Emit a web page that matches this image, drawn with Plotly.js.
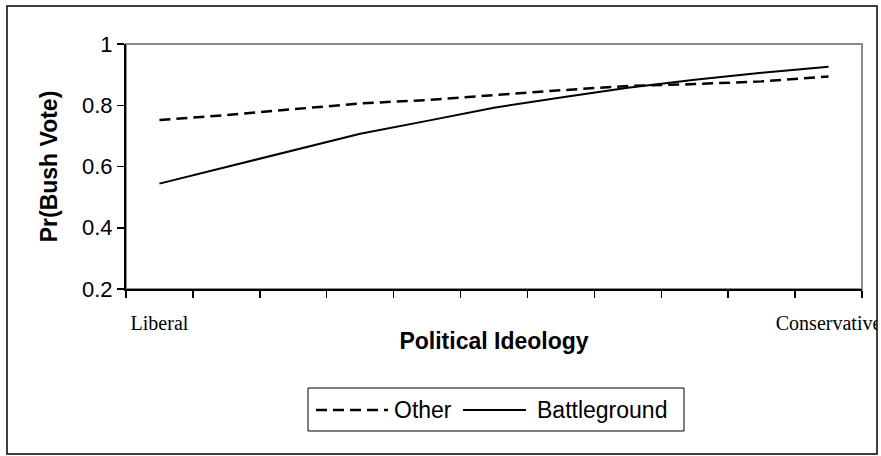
<!DOCTYPE html>
<html>
<head>
<meta charset="utf-8">
<script src="https://cdn.plot.ly/plotly-3.0.1.min.js"></script>
<style>html,body{margin:0;padding:0;background:#fff}#chart{width:881px;height:456px}</style>
</head>
<body>
<div id="chart"></div>
<script>
// Ideology positions (11 steps from Liberal to Conservative)
const ideology = [0, 1, 2, 3, 4, 5, 6, 7, 8, 9, 10];
const tickPositions = [0, 10];
const tickLabels = ["Liberal", "Conservative"];
const otherValues = [0.752, 0.768, 0.787, 0.806, 0.817, 0.834, 0.849, 0.863, 0.869, 0.878, 0.894];
const battlegroundValues = [0.544, 0.598, 0.652, 0.707, 0.749, 0.792, 0.825, 0.857, 0.883, 0.906, 0.926];
const seriesNames = ["Other", "Battleground"];

const W = 881, H = 456;
const M = {l: 126, r: 19, t: 44, b: 167};
const pw = W - M.l - M.r, ph = H - M.t - M.b;
const px = x => (x - M.l) / pw;
const py = y => (H - M.b - y) / ph;

const dashStyle = "11px,6px";
const traces = [
  {x: ideology, y: otherValues, name: seriesNames[0], type: "scatter", mode: "lines", showlegend: false,
   line: {color: "#000", width: 2.5, dash: dashStyle}},
  {x: ideology, y: battlegroundValues, name: seriesNames[1], type: "scatter", mode: "lines", showlegend: false,
   line: {color: "#000", width: 2}}
];

const font = "Liberation Sans, Arial";
const legY = 410;
const layout = {
  width: W, height: H,
  margin: M,
  paper_bgcolor: "#fff", plot_bgcolor: "#fff",
  showlegend: false,
  xaxis: {range: [-0.5, 10.5], showgrid: false, zeroline: false, showline: true, linecolor: "#000", linewidth: 2,
    tickmode: "array", tickvals: tickPositions, ticktext: tickLabels, ticks: "",
    ticklabelstandoff: 15, ticklabeloverflow: "allow",
    tickfont: {family: "Liberation Serif, Times New Roman", size: 20, color: "#000"},
    minor: {tickmode: "linear", tick0: -0.5, dtick: 1, ticks: "outside", ticklen: 7, tickcolor: "#000", tickwidth: 1.5, showgrid: false},
    title: {text: "<b>Political Ideology</b>", standoff: 0, font: {family: font, size: 23, color: "#000"}}},
  yaxis: {range: [0.2, 1], dtick: 0.2, tick0: 0.2, showgrid: false, zeroline: false, showline: true, linecolor: "#000", linewidth: 2,
    ticks: "outside", ticklen: 7, tickcolor: "#000", tickwidth: 1.5,
    tickfont: {family: font, size: 22, color: "#000"},
    title: {text: "<b>Pr(Bush Vote)</b>", standoff: 18, font: {family: font, size: 23, color: "#000"}}},
  annotations: [
    {xref: "paper", yref: "paper", x: px(392), y: py(legY), xanchor: "left", yanchor: "middle", showarrow: false,
     text: seriesNames[0], font: {family: font, size: 23, color: "#000"}},
    {xref: "paper", yref: "paper", x: px(535), y: py(legY), xanchor: "left", yanchor: "middle", showarrow: false,
     text: seriesNames[1], font: {family: font, size: 23, color: "#000"}}
  ],
  shapes: [
    {type: "rect", xref: "paper", yref: "paper", x0: 0, x1: 1, y0: 0, y1: 1, layer: "below",
     line: {color: "#8c8c8c", width: 2}},
    {type: "rect", xref: "paper", yref: "paper", x0: px(877), x1: px(884), y0: py(0), y1: py(456), layer: "above",
     fillcolor: "#fff", line: {width: 0}},
    {type: "rect", xref: "paper", yref: "paper", x0: px(7), x1: px(877), y0: py(6), y1: py(454), layer: "above",
     line: {color: "#000", width: 1.5}},
    // legend
    {type: "rect", xref: "paper", yref: "paper", x0: px(308), x1: px(684), y0: py(388), y1: py(431), layer: "above",
     line: {color: "#000", width: 1}},
    {type: "line", xref: "paper", yref: "paper", x0: px(316), x1: px(388), y0: py(legY), y1: py(legY), layer: "above",
     line: {color: "#000", width: 2.5, dash: dashStyle}},
    {type: "line", xref: "paper", yref: "paper", x0: px(463), x1: px(526), y0: py(legY), y1: py(legY), layer: "above",
     line: {color: "#000", width: 2}}
  ]
};

Plotly.newPlot("chart", traces, layout, {displayModeBar: false, staticPlot: true});
</script>
</body>
</html>
